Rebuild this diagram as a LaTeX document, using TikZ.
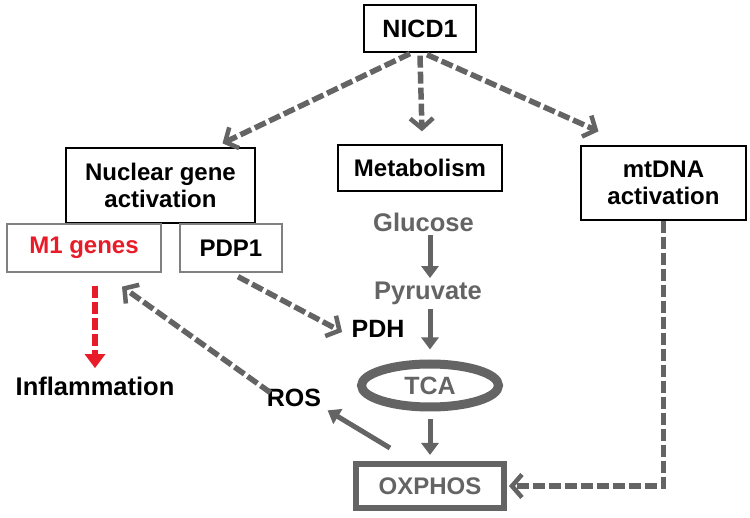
\documentclass[tikz,border=0pt]{standalone}
\usepackage{fontspec}
\setmainfont{Liberation Sans}
\usetikzlibrary{positioning, shapes.geometric, arrows.meta}
\definecolor{pathgray}{RGB}{100,100,100}
\definecolor{genered}{RGB}{232,28,40}
\begin{document}
\begin{tikzpicture}[x=1pt, y=-1pt, node distance=10pt]
    \tikzset{every node/.style={font=\bfseries\fontsize{24}{27}\selectfont}}
    \tikzset{box/.style={draw, line width=1.3pt, align=center, inner sep=0pt}}
    \tikzset{dasharrow/.style={pathgray, line width=5.5pt, dash pattern=on 12pt off 4pt,
        -{Straight Barb[length=10pt, width=23pt, line width=4.5pt]}}}
    \tikzset{solidarrow/.style={pathgray, line width=5pt, -{Triangle[length=12pt, width=17pt]}}}
    \tikzset{metab/.style={text=pathgray, font=\bfseries\fontsize{25.5}{28}\selectfont}}
    \useasboundingbox (0,0) rectangle (750,518);

    \node[box, minimum width=112pt, minimum height=47pt, font=\bfseries\fontsize{25}{28}\selectfont] (nicd) at (420,28.5) {NICD1};
    \node[box, minimum width=189pt, minimum height=75pt] (nuclear) at (160.5,185.5) {Nuclear gene\\activation};
    \node[box, draw=gray, text=genered, minimum width=154pt, minimum height=48pt] (mone) at (84,248) {M1 genes};
    \node[box, draw=gray, minimum width=102pt, minimum height=48pt] (pdp) at (231,248) {PDP1};
    \node[box, minimum width=164pt, minimum height=46pt] (metabolism) at (420,168) {Metabolism};
    \node[box, minimum width=165pt, minimum height=74pt] (mtdna) at (663.5,183) {mtDNA\\activation};

    \node[metab] (glucose) at (423.5,222) {Glucose};
    \node[metab] (pyruvate) at (428,293) {Pyruvate};
    \node[font=\bfseries\fontsize{25}{28}\selectfont] (pdh) at (378,329) {PDH};
    \node[ellipse, draw=pathgray, line width=9pt, text=pathgray, inner sep=0pt,
        font=\bfseries\fontsize{25}{28}\selectfont,
        minimum width=137pt, minimum height=43pt] (tca) at (430,385.5) {TCA};
    \node[font=\bfseries\fontsize{25}{28}\selectfont] (ros) at (294,398) {ROS};
    \node[font=\bfseries\fontsize{25.5}{28}\selectfont] (inflam) at (95,386) {Inflammation};
    \node[draw=pathgray, line width=6pt, text=pathgray, inner sep=0pt,
        minimum width=148pt, minimum height=44pt] (oxphos) at (430,486) {OXPHOS};

    % NICD1 branches
    \draw[dasharrow] ([xshift=-10pt, yshift=-1pt]nicd.south) -- ([xshift=62pt, yshift=4pt]nuclear.north);
    \draw[dasharrow] ([yshift=-3pt]nicd.south) -- ([xshift=2pt, yshift=13pt]metabolism.north);
    \draw[dasharrow] ([xshift=7pt, yshift=-2pt]nicd.south) -- ([xshift=-65pt, yshift=14pt]mtdna.north);

    % metabolic chain
    \draw[solidarrow] (glucose.south -| tca.north) -- (pyruvate.north -| tca.north);
    \draw[solidarrow] ([yshift=-1pt]pyruvate.south -| tca.north) -- ([yshift=10pt]tca.north);
    \draw[solidarrow] ([yshift=-8pt]tca.south) -- ([yshift=6pt]oxphos.north);
    \draw[solidarrow] ([xshift=-40pt, yshift=13pt]oxphos.north) -- ([xshift=3pt]ros.south east);

    \draw[dasharrow] ([xshift=7pt, yshift=-7pt]ros.north west) -- ([xshift=38pt, yshift=-14pt]mone.south);
    \draw[dasharrow] ([xshift=7pt, yshift=-4pt]pdp.south) -- ([xshift=-6pt, yshift=-3pt]pdh.west);
    \draw[dasharrow, genered, -{Triangle[length=14pt, width=20pt]}] ([xshift=11pt, yshift=-13pt]mone.south) -- ([yshift=5pt]inflam.north);
    \draw[dasharrow] (mtdna.south) |- ([xshift=2pt]oxphos.east);
\end{tikzpicture}
\end{document}
